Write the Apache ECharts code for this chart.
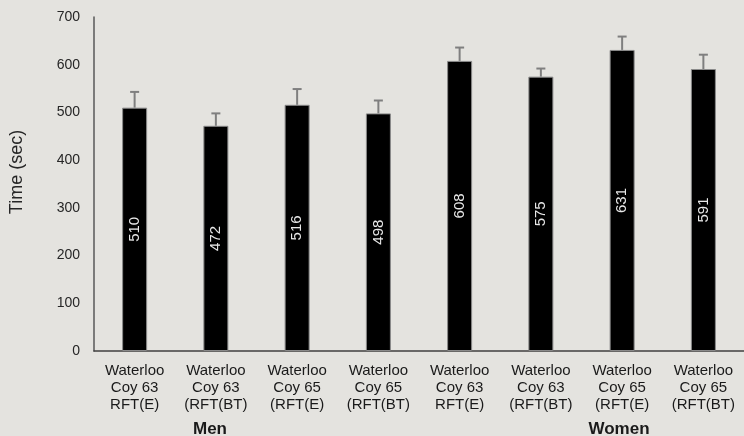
<!DOCTYPE html>
<html>
<head>
<meta charset="utf-8">
<script src="https://cdn.jsdelivr.net/npm/echarts@6/dist/echarts.min.js"></script>
<style>
  html, body { margin: 0; padding: 0; background: #e4e3df; }
  #chart { width: 744px; height: 436px; }
</style>
</head>
<body>
<div id="chart"></div>
<script>
// Mean completion time per test protocol, with standard-deviation whiskers
const categories = [
  'Waterloo\nCoy 63\nRFT(E)',
  'Waterloo\nCoy 63\n(RFT(BT)',
  'Waterloo\nCoy 65\n(RFT(E)',
  'Waterloo\nCoy 65\n(RFT(BT)',
  'Waterloo\nCoy 63\nRFT(E)',
  'Waterloo\nCoy 63\n(RFT(BT)',
  'Waterloo\nCoy 65\n(RFT(E)',
  'Waterloo\nCoy 65\n(RFT(BT)'
];
const meanTimes = [510, 472, 516, 498, 608, 575, 631, 591];
const errorUp = [33, 26, 33, 27, 28, 17, 28, 30];
const groupLabels = ['Men', 'Women'];
const yTicks = { min: 0, max: 700, interval: 100 };

const errorData = meanTimes.map((v, i) => [i, v, v + errorUp[i]]);

const chart = echarts.init(document.getElementById('chart'));
chart.setOption({
  backgroundColor: '#e4e3df',
  animation: false,
  textStyle: { fontFamily: 'Liberation Sans, Arial, sans-serif' },
  grid: { left: 94, right: -8, top: 17, bottom: 85, containLabel: false },
  xAxis: {
    type: 'category',
    data: categories,
    axisLine: { lineStyle: { color: '#404040', width: 1.5 } },
    axisTick: { show: false },
    axisLabel: {
      interval: 0,
      color: '#1a1a1a',
      fontSize: 15,
      lineHeight: 17,
      margin: 11
    }
  },
  yAxis: {
    type: 'value',
    min: yTicks.min,
    max: yTicks.max,
    interval: yTicks.interval,
    axisLine: { show: true, lineStyle: { color: '#595959', width: 1.5 } },
    axisTick: { show: false },
    splitLine: { show: false },
    axisLabel: { color: '#262626', fontSize: 14, margin: 14 }
  },
  series: [
    {
      type: 'bar',
      data: meanTimes,
      barWidth: 25,
      itemStyle: { color: '#000', borderColor: '#8a8a8a', borderWidth: 1 },
      label: {
        show: true,
        position: 'inside',
        rotate: 90,
        color: '#e8e8e8',
        fontSize: 15
      },
      z: 2
    },
    {
      type: 'custom',
      data: errorData,
      z: 3,
      renderItem: function (params, api) {
        const x = api.coord([api.value(0), api.value(1)])[0];
        const yLow = api.coord([api.value(0), api.value(1)])[1];
        const yHigh = api.coord([api.value(0), api.value(2)])[1];
        const half = 4.5;
        const style = { stroke: '#7f7f7f', lineWidth: 2 };
        return {
          type: 'group',
          children: [
            { type: 'line', shape: { x1: x, y1: yLow, x2: x, y2: yHigh }, style: style },
            { type: 'line', shape: { x1: x - half, y1: yHigh, x2: x + half, y2: yHigh }, style: style }
          ]
        };
      }
    }
  ],
  graphic: [
    {
      type: 'text', x: 17, y: 172, rotation: Math.PI / 2,
      style: { text: 'Time (sec)', fill: '#262626', font: '18px Liberation Sans, Arial, sans-serif', align: 'center', verticalAlign: 'middle' }
    },
    {
      type: 'text', x: 210, y: 429,
      style: { text: groupLabels[0], fill: '#1a1a1a', font: 'bold 17px Liberation Sans, Arial, sans-serif', align: 'center', verticalAlign: 'middle' }
    },
    {
      type: 'text', x: 619, y: 429,
      style: { text: groupLabels[1], fill: '#1a1a1a', font: 'bold 17px Liberation Sans, Arial, sans-serif', align: 'center', verticalAlign: 'middle' }
    }
  ]
});
</script>
</body>
</html>
